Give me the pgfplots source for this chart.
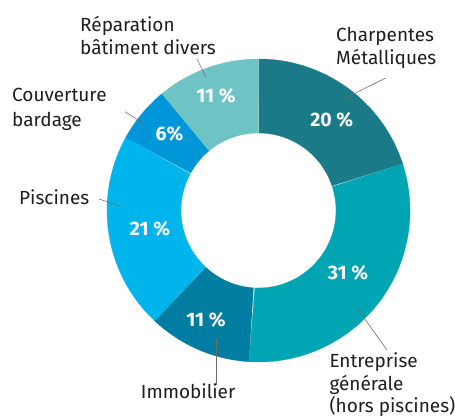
\documentclass[border=0pt]{standalone}
\usepackage{pgfplots}
\pgfplotsset{compat=1.18}
\usepackage{pgfplotstable}
\usepackage{fontspec}
\setmainfont{Fira Sans}
\definecolor{c0}{RGB}{26,122,136}
\definecolor{c1}{RGB}{0,165,180}
\definecolor{c2}{RGB}{0,125,160}
\definecolor{c3}{RGB}{0,181,235}
\definecolor{c4}{RGB}{0,150,215}
\definecolor{c5}{RGB}{110,196,196}
\definecolor{lead}{RGB}{110,110,110}
\definecolor{txt}{RGB}{30,30,30}
\pgfplotstableread{
label value
Charpentes 20
Entreprise 31
Immobilier 11
Piscines 21
Couverture 6
Reparation 11
}\piedata
\begin{document}
\begin{tikzpicture}[
  lbl/.style={anchor=base west, inner sep=0pt, text=txt, font=\fontsize{19}{22}\selectfont},
  pct/.style={anchor=center, inner sep=0pt, text=white, font=\fontsize{19.5}{22}\selectfont\bfseries}]
\useasboundingbox (0,0) rectangle (455pt,419pt);
\begin{axis}[at={(0,0)}, anchor=south west, scale only axis, width=455pt, height=419pt,
  xmin=0, xmax=455, ymin=0, ymax=419, y dir=reverse, hide axis, clip=false]
\def\cx{258.5}\def\cy{210.5}\def\Rout{151.5}\def\Rin{77.5}
\gdef\acc{90}
\pgfplotsforeachungrouped \i in {0,...,5}{%
  \pgfplotstablegetelem{\i}{value}\of\piedata
  \pgfmathsetmacro\ta{\acc}%
  \pgfmathsetmacro\tb{\acc-3.6*\pgfplotsretval}%
  \edef\cmd{\noexpand\addplot[fill=c\i, draw=c\i, line width=0.3pt, domain=0:2, samples=241, variable=\noexpand\t]
    ({\cx+((\noexpand\t<1) ? \Rout : \Rin)*cos(((\noexpand\t<1) ? ((\ta)+((\tb)-(\ta))*\noexpand\t) : ((\tb)+((\ta)-(\tb))*(\noexpand\t-1))))},
     {\cy-((\noexpand\t<1) ? \Rout : \Rin)*sin(((\noexpand\t<1) ? ((\ta)+((\tb)-(\ta))*\noexpand\t) : ((\tb)+((\ta)-(\tb))*(\noexpand\t-1))))});}%
  \cmd
  \global\let\acc\tb
}
% leader lines
\addplot[lead, line width=0.6pt] coordinates {(385.7,78) (344,98.7)};
\addplot[lead, line width=0.6pt] coordinates {(357,308) (387,350)};
\addplot[lead, line width=0.6pt] coordinates {(216.7,338) (216.7,385)};
\addplot[lead, line width=0.6pt] coordinates {(99,199) (119,205.7)};
\addplot[lead, line width=0.6pt] coordinates {(125,111.7) (144.3,124)};
\addplot[lead, line width=0.6pt] coordinates {(197,59) (206,77)};
% outer labels
\node[lbl] at (axis cs:336,41.7) {Charpentes};
\node[lbl] at (axis cs:336,65) {Métalliques};
\node[lbl] at (axis cs:329.3,367.7) {Entreprise};
\node[lbl] at (axis cs:329.3,390) {générale};
\node[lbl] at (axis cs:329.3,412) {(hors piscines)};
\node[lbl] at (axis cs:140.7,398) {Immobilier};
\node[lbl] at (axis cs:19,205) {Piscines};
\node[lbl] at (axis cs:12,101.7) {Couverture};
\node[lbl] at (axis cs:12,126.7) {bardage};
\node[lbl] at (axis cs:80,32) {Réparation};
\node[lbl] at (axis cs:80,54.5) {bâtiment divers};
% percentages
\node[pct] at (axis cs:331.7,119.5) {20 \%};
\node[pct] at (axis cs:348,272.5) {31 \%};
\node[pct] at (axis cs:206,320) {11 \%};
\node[pct] at (axis cs:150,228.5) {21 \%};
\node[pct] at (axis cs:169.5,134) {6\%};
\node[pct] at (axis cs:216,96.3) {11 \%};
\end{axis}
\end{tikzpicture}
\end{document}
